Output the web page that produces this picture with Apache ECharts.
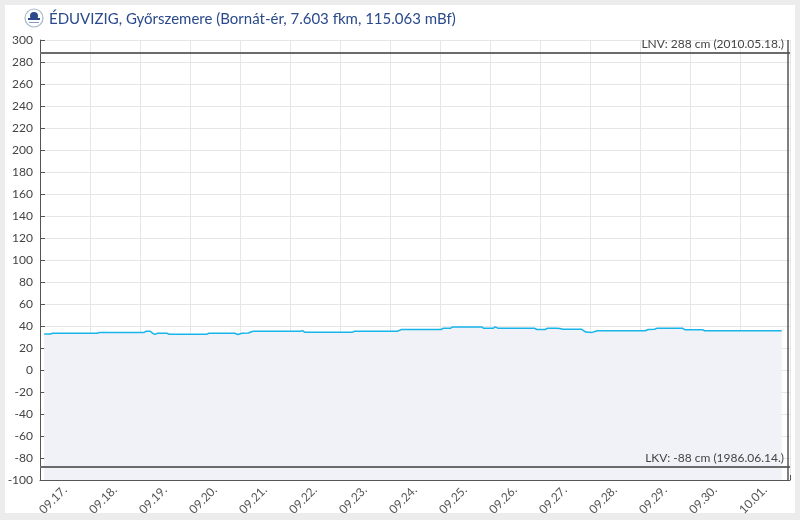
<!DOCTYPE html>
<html>
<head>
<meta charset="utf-8">
<script src="https://cdn.jsdelivr.net/npm/echarts@6/dist/echarts.min.js"></script>
<style>
html,body{margin:0;padding:0;background:#ececec;}
#panel{position:absolute;left:5px;top:5px;width:790px;height:508px;background:#fff;}
#chart{position:absolute;left:0;top:0;width:800px;height:520px;}
</style>
</head>
<body>
<div id="panel"></div>
<div id="chart"></div>
<script>
// ---- data ----
const titleText = 'ÉDUVIZIG, Győrszemere (Bornát-ér, 7.603 fkm, 115.063 mBf)';
const dayLabels = ['09.17.','09.18.','09.19.','09.20.','09.21.','09.22.','09.23.','09.24.','09.25.','09.26.','09.27.','09.28.','09.29.','09.30.','10.01.'];
const times = [
 '09-17 02:00','09-17 05:00','09-17 06:00','09-18 03:30','09-18 04:30','09-19 02:00','09-19 03:00','09-19 05:00','09-19 06:00','09-19 07:00',
 '09-19 08:30','09-19 13:00','09-19 14:00','09-20 08:00','09-20 09:00','09-20 21:30','09-20 23:00','09-21 01:00','09-21 04:00','09-21 05:30',
 '09-21 06:30','09-22 05:00','09-22 06:00','09-22 07:00','09-23 06:00','09-23 07:00','09-24 03:30','09-24 04:30','09-24 05:30','09-25 00:30',
 '09-25 01:30','09-25 05:00','09-25 06:00','09-25 20:00','09-25 21:00','09-26 01:30','09-26 02:30','09-26 04:00','09-26 21:30','09-26 22:30',
 '09-27 02:30','09-27 03:30','09-27 08:00','09-27 08:30','09-27 09:30','09-27 11:00','09-27 20:00','09-27 22:00','09-28 01:00','09-28 03:30',
 '09-29 02:30','09-29 04:00','09-29 07:00','09-29 08:00','09-29 20:30','09-29 21:30','09-30 06:00','09-30 07:00','10-01 20:00'
];
const levels = [
 32.7,32.7,33.4,33.4,34.2,34.2,35.2,35.2,33.5,32.4,
 33.4,33.4,32.4,32.4,33.4,33.4,32.3,33.4,33.6,34.8,
 35.2,35.2,35.8,34.4,34.4,35.2,35.2,36.0,36.8,36.8,
 37.9,37.9,39.1,39.1,37.9,37.9,39.2,37.9,37.9,36.8,
 36.8,37.9,37.9,37.2,37.8,37.0,37.0,34.5,34.2,35.6,
 35.7,36.8,37.0,37.9,37.9,36.7,36.7,35.7,35.7
];
const thresholdNames = ['LNV','LKV'];
const thresholdValues = [288,-88];
const thresholdDates = ['2010.05.18.','1986.06.14.'];
const axisStart = '09-17 00:00';
const axisEnd = '10-02 00:00';
const nowTime = '10-01 23:00';
const yMin = -100, yMax = 300, yStep = 20;

// ---- helpers ----
const DAY = 86400000, HOUR = 3600000;
function ts(s){
  const [d,t] = s.split(' ');
  const [mo,da] = d.split('-').map(Number);
  const [h,mi] = t.split(':').map(Number);
  return Date.UTC(2025, mo-1, da, h, mi);
}
const xMin = ts(axisStart), xMax = ts(axisEnd);
const seriesData = times.map((t,i)=>[ts(t), levels[i]]);
const labelValues = dayLabels.map((_,i)=> xMin + i*DAY + 12*HOUR);

const FONT = 'Lato, "Open Sans", sans-serif';
const chart = echarts.init(document.getElementById('chart'), null, {renderer:'canvas'});
chart.setOption({
  animation:false,
  textStyle:{fontFamily:FONT},
  title:{
    text:titleText, left:44, top:7,
    textStyle:{fontFamily:FONT, fontSize:15, fontWeight:'normal', color:'#2a4a8c'}
  },
  graphic:[
    {type:'circle', shape:{cx:34, cy:18, r:9}, style:{fill:'#fff', stroke:'#a9b6cc', lineWidth:1.2}},
    {type:'circle', shape:{cx:34, cy:16, r:4}, style:{fill:'#2a4a8c'}},
    {type:'rect', shape:{x:28, y:18, width:12, height:2}, style:{fill:'#2a4a8c'}},
    {type:'rect', shape:{x:29, y:22, width:10, height:1}, style:{fill:'#8a9ab8'}}
  ],
  grid:{left:40, right:10, top:40, bottom:40, containLabel:false},
  xAxis:{
    type:'value', min:xMin, max:xMax, interval:DAY,
    axisLine:{show:true, onZero:false, lineStyle:{color:'#555', width:1}},
    axisTick:{show:true, inside:true, length:5, lineStyle:{color:'#555'}},
    splitLine:{show:true, lineStyle:{color:'#e6e6e6'}},
    axisLabel:{
      customValues:labelValues, rotate:45, margin:8, fontSize:12, color:'#555', fontFamily:FONT,
      formatter:(v)=>{ const i=Math.floor((v-xMin)/DAY); return dayLabels[i]||''; }
    }
  },
  yAxis:{
    type:'value', min:yMin, max:yMax, interval:yStep,
    axisLine:{show:true, onZero:false, lineStyle:{color:'#555', width:1}},
    axisTick:{show:true, inside:true, length:5, lineStyle:{color:'#555'}},
    splitLine:{show:true, lineStyle:{color:'#e6e6e6'}},
    axisLabel:{fontSize:12, color:'#444', margin:7, fontFamily:FONT}
  },
  series:[{
    type:'line', data:seriesData, showSymbol:false, symbol:'none',
    lineStyle:{color:'#18b5ea', width:1.5},
    areaStyle:{color:'#f1f2f7', origin:'start', opacity:1},
    markLine:{
      silent:true, symbol:['none','none'], animation:false,
      data:[
        ...thresholdValues.map((v,i)=>({
          yAxis:v,
          lineStyle:{color:'#6b6b6b', width:2, type:'solid'},
          label:{show:true, position:'insideEndTop', distance:[6,3], formatter:thresholdNames[i]+': '+v+' cm ('+thresholdDates[i]+')', color:'#444', fontSize:12, fontFamily:FONT}
        })),
        {xAxis:ts(nowTime), lineStyle:{color:'#555', width:1.5, type:'solid'}, label:{show:false}}
      ]
    }
  }]
});
</script>
</body>
</html>
